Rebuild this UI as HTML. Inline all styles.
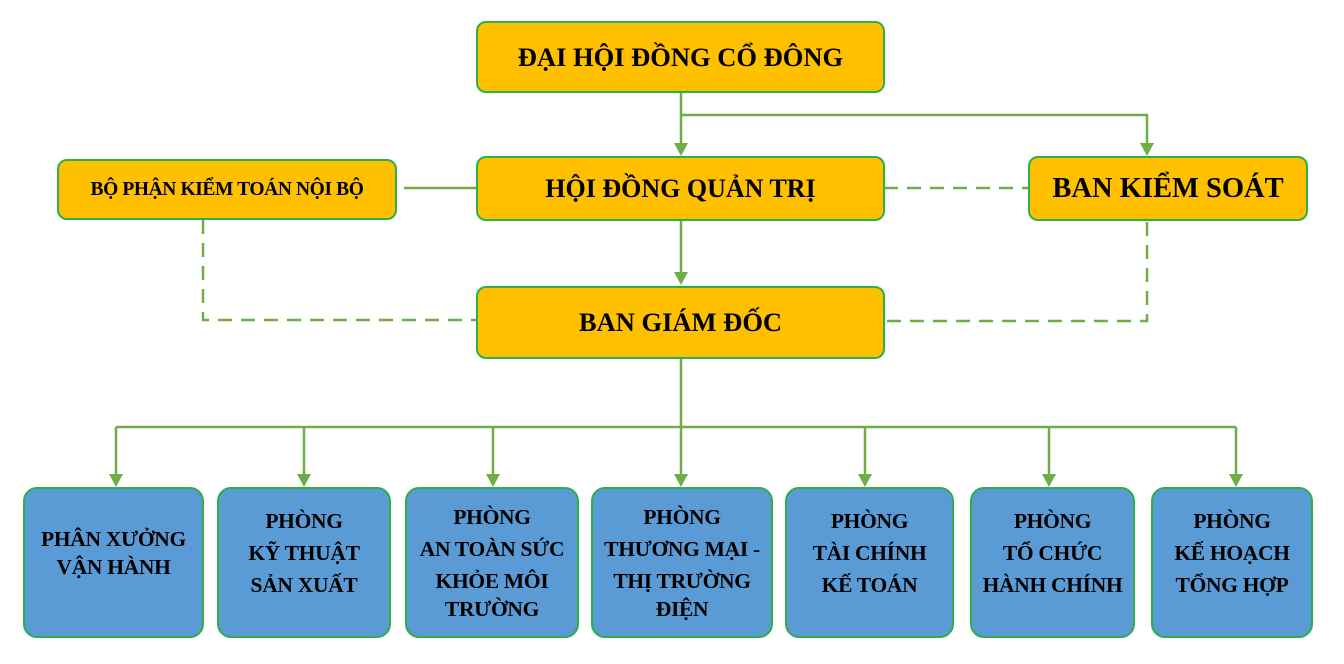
<!DOCTYPE html>
<html><head><meta charset="utf-8">
<style>
html,body{margin:0;padding:0;background:#fff;}
body{width:1344px;height:664px;position:relative;overflow:hidden;font-family:"Liberation Serif","Noto Serif CJK SC",serif;font-weight:bold;color:#000;}
.b{position:absolute;box-sizing:border-box;border:2.5px solid #2fae4a;border-radius:10px;display:flex;align-items:center;justify-content:center;text-align:center;white-space:nowrap;}
.y{background:#ffc000;}
.bl{background:#5b9bd5;border-radius:14px;align-items:flex-start;}
.bl div{font-size:21.5px;line-height:28px;letter-spacing:-0.3px;}
svg{position:absolute;left:0;top:0;}
</style></head><body>
<svg width="1344" height="664">
<g stroke="#70ad47" stroke-width="2.5" fill="none">
<path d="M681 92V146M681 115H1147V146M681 220V275M404 188H476"/>
<path d="M681 358V426M116 427H1236M116 427V476M304 427V476M493 427V476M681 426V476M865 427V476M1049 427V476M1236 427V476"/>
<path stroke-dasharray="14,9" d="M884 188H1028M203 220V320H476M1147 222V321H884"/>
</g>
<g fill="#70ad47">
<path d="M674 143h14l-7 13z"/><path d="M1140 143h14l-7 13z"/><path d="M674 272h14l-7 13z"/>
<path d="M109 474h14l-7 13z"/><path d="M297 474h14l-7 13z"/><path d="M486 474h14l-7 13z"/><path d="M674 474h14l-7 13z"/><path d="M858 474h14l-7 13z"/><path d="M1042 474h14l-7 13z"/><path d="M1229 474h14l-7 13z"/>
</g>
</svg>
<div class="b y" style="left:476px;top:21px;width:409px;height:72px;font-size:26.5px;">ĐẠI HỘI ĐỒNG CỔ ĐÔNG</div>
<div class="b y" style="left:57px;top:159px;width:340px;height:61px;font-size:19.5px;letter-spacing:-0.4px;">BỘ PHẬN KIỂM TOÁN NỘI BỘ</div>
<div class="b y" style="left:476px;top:156px;width:409px;height:65px;font-size:26px;">HỘI ĐỒNG QUẢN TRỊ</div>
<div class="b y" style="left:1028px;top:156px;width:280px;height:65px;font-size:28.5px;">BAN KIỂM SOÁT</div>
<div class="b y" style="left:476px;top:286px;width:409px;height:73px;font-size:26.5px;">BAN GIÁM ĐỐC</div>

<div class="b bl" style="left:23px;top:487px;width:181px;height:151px;"><div style="margin-top:36px">PHÂN XƯỞNG<br>VẬN HÀNH</div></div>
<div class="b bl" style="left:217px;top:487px;width:174px;height:151px;"><div style="margin-top:18px">PHÒNG<br><span style="line-height:36px">KỸ THUẬT</span><br>SẢN XUẤT</div></div>
<div class="b bl" style="left:405px;top:487px;width:174px;height:151px;"><div style="margin-top:14px">PHÒNG<br><span style="line-height:36px">AN TOÀN SỨC</span><br>KHỎE MÔI<br>TRƯỜNG</div></div>
<div class="b bl" style="left:591px;top:487px;width:182px;height:151px;"><div style="margin-top:14px">PHÒNG<br><span style="line-height:36px">THƯƠNG MẠI -</span><br>THỊ TRƯỜNG<br>ĐIỆN</div></div>
<div class="b bl" style="left:785px;top:487px;width:169px;height:151px;"><div style="margin-top:18px">PHÒNG<br><span style="line-height:36px">TÀI CHÍNH</span><br>KẾ TOÁN</div></div>
<div class="b bl" style="left:970px;top:487px;width:165px;height:151px;"><div style="margin-top:18px">PHÒNG<br><span style="line-height:36px">TỔ CHỨC</span><br>HÀNH CHÍNH</div></div>
<div class="b bl" style="left:1151px;top:487px;width:162px;height:151px;"><div style="margin-top:18px">PHÒNG<br><span style="line-height:36px">KẾ HOẠCH</span><br>TỔNG HỢP</div></div>
</body></html>
